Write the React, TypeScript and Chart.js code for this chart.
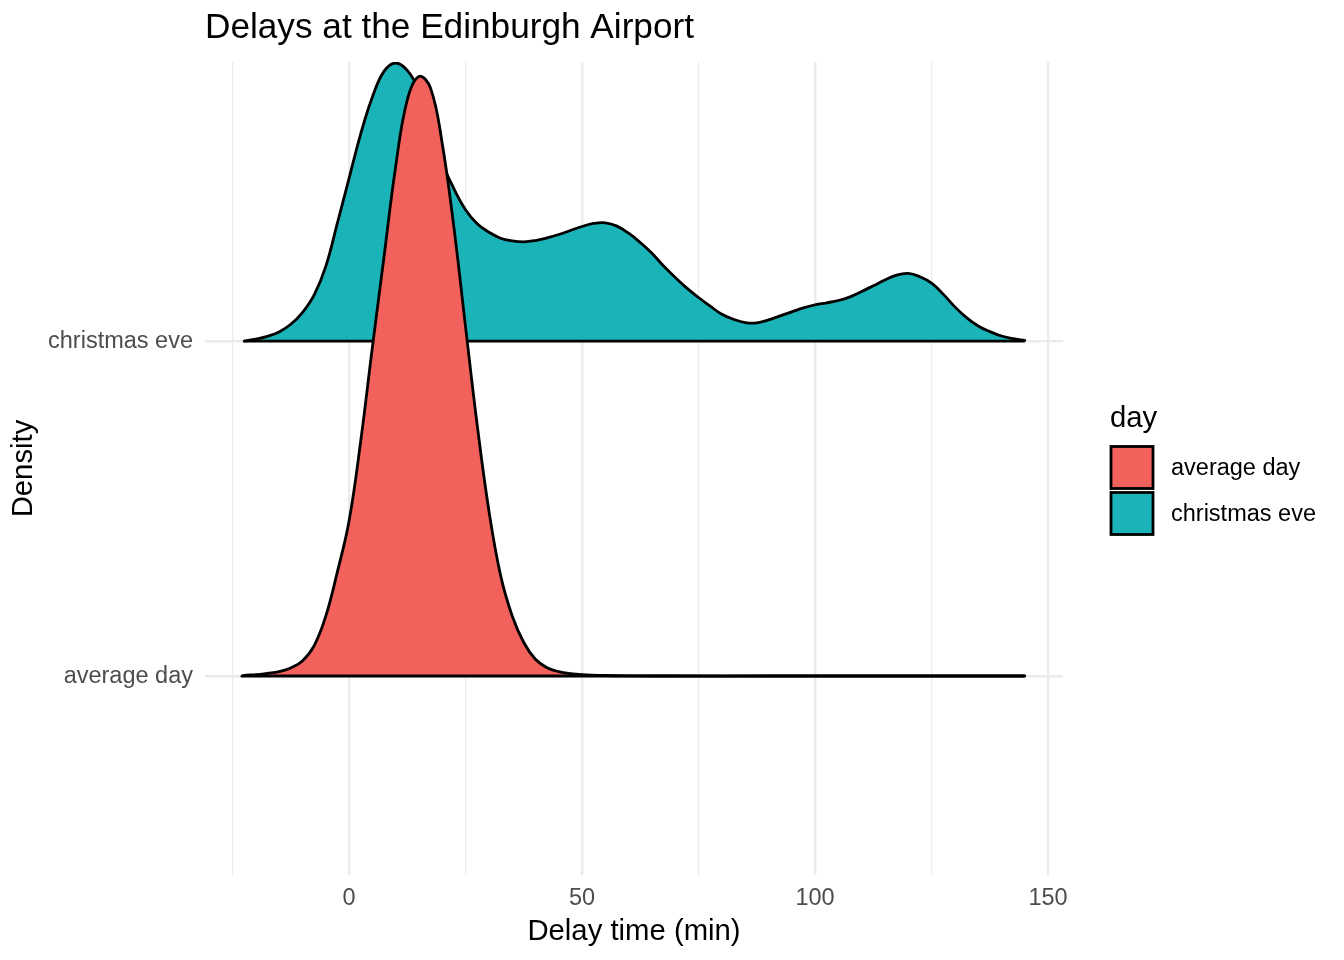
import React, { useEffect, useRef } from "react";
import { Chart, registerables } from "chart.js";

Chart.register(...registerables);

// ---- data ----
const categories = ["average day", "christmas eve"];
const fillColors = ["#F3615C", "#1AB3B7"];
const xTicks = [-25, 0, 25, 50, 75, 100, 125, 150];
const labeledTicks = [0, 50, 100, 150];

// ridge heights are in units of the spacing between the two ridges
const avgDayDelay = [
  -23, -22.5, -20, -17.5, -15, -12.5, -10, -7.5, -5, -2.5, 0, 2.5, 5, 7.5, 10, 12.5, 15, 17.5, 20,
  22.5, 25, 27.5, 30, 32.5, 35, 37.5, 40, 42.5, 45, 47.5, 50, 55, 60, 70, 90, 110, 130, 145,
];
const avgDayHeight = [
  0, 0.002, 0.004, 0.008, 0.013, 0.024, 0.045, 0.09, 0.178, 0.311, 0.462, 0.7, 0.98, 1.25, 1.52,
  1.72, 1.79, 1.755, 1.59, 1.34, 1.043, 0.75, 0.495, 0.302, 0.18, 0.1, 0.05, 0.025, 0.013, 0.007,
  0.004, 0.0015, 0.0005, 0, 0, 0, 0, 0,
];

const xmasDelay = [
  -22.5, -20, -17.5, -15, -12.5, -10, -7.5, -5, -2.5, 0, 2.5, 5, 7.5, 10, 12.5, 15, 17.5, 20, 22.5,
  25, 27.5, 30, 32.5, 35, 37.5, 40, 42.5, 45, 47.5, 50, 52.5, 55, 57.5, 60, 62.5, 65, 67.5, 70, 72.5,
  75, 77.5, 80, 82.5, 85, 87.5, 90, 92.5, 95, 97.5, 100, 102.5, 105, 107.5, 110, 112.5, 115, 117.5,
  120, 122.5, 125, 127.5, 130, 132.5, 135, 137.5, 140, 142.5, 145,
];
const xmasHeight = [
  0, 0.006, 0.014, 0.027, 0.05, 0.085, 0.137, 0.222, 0.352, 0.485, 0.618, 0.728, 0.805, 0.83, 0.808,
  0.75, 0.67, 0.535, 0.455, 0.392, 0.35, 0.325, 0.307, 0.299, 0.296, 0.3, 0.308, 0.318, 0.33, 0.342,
  0.351, 0.353, 0.343, 0.322, 0.294, 0.262, 0.224, 0.19, 0.158, 0.13, 0.104, 0.08, 0.065, 0.055,
  0.054, 0.063, 0.075, 0.087, 0.099, 0.108, 0.114, 0.121, 0.132, 0.148, 0.165, 0.182, 0.197, 0.202,
  0.192, 0.173, 0.14, 0.102, 0.07, 0.045, 0.028, 0.015, 0.007, 0.002,
];

const FONT = "'Liberation Sans', Arial, Helvetica, sans-serif";
const LINE_W = 2.8;

const legendPlugin = {
  id: "ggLegend",
  afterDraw(chart: any) {
    const ctx = chart.ctx as CanvasRenderingContext2D;
    const left = chart.chartArea.right + 47;
    const mid = (chart.chartArea.top + chart.chartArea.bottom) / 2;
    ctx.save();
    ctx.fillStyle = "#000000";
    ctx.font = `29.3px ${FONT}`;
    ctx.textBaseline = "middle";
    ctx.textAlign = "left";
    ctx.fillText("day", left, mid - 50);
    const keyTop = mid - 22;
    categories.forEach((c, i) => {
      const y = keyTop + i * 46;
      ctx.fillStyle = fillColors[i];
      ctx.fillRect(left + 1, y, 42, 42);
      ctx.strokeStyle = "#000000";
      ctx.lineWidth = LINE_W;
      ctx.strokeRect(left + 1, y, 42, 42);
      ctx.fillStyle = "#000000";
      ctx.font = `23.5px ${FONT}`;
      ctx.fillText(c, left + 61, y + 22);
    });
    ctx.restore();
  },
};

export default function App() {
  const ref = useRef<HTMLCanvasElement>(null);

  useEffect(() => {
    if (!ref.current) return;
    const series = [
      { xs: avgDayDelay, hs: avgDayHeight },
      { xs: xmasDelay, hs: xmasHeight },
    ];
    // Chart.js draws the highest dataset index first, so the upper ridge
    // (christmas eve) goes last in the array and is painted underneath.
    const datasets: any[] = [];
    series.forEach((s, i) => {
      const base = i + 1;
      const pts = s.xs.map((x, k) => ({ x, y: base + s.hs[k] }));
      datasets.push({
        label: categories[i] + " baseline",
        data: [
          { x: s.xs[0], y: base },
          { x: s.xs[s.xs.length - 1], y: base },
        ],
        borderColor: "#000000",
        borderWidth: LINE_W,
        fill: false,
        pointRadius: 0,
      });
      datasets.push({
        label: categories[i],
        data: pts,
        borderColor: "#000000",
        borderWidth: LINE_W,
        backgroundColor: fillColors[i],
        fill: { value: base },
        pointRadius: 0,
        tension: 0.4,
        borderJoinStyle: "round",
        borderCapStyle: "round",
      });
    });

    const chart = new Chart(ref.current, {
      type: "line",
      data: { datasets },
      plugins: [legendPlugin],
      options: {
        animation: false,
        responsive: false,
        layout: { padding: { left: 0, right: 281, top: 0, bottom: 0 } },
        plugins: {
          legend: { display: false },
          tooltip: { enabled: false },
          title: {
            display: true,
            text: "Delays at the Edinburgh Airport",
            align: "start",
            fullSize: false,
            color: "#000000",
            font: { family: FONT, size: 35.2, weight: "normal" },
            padding: { top: 7, bottom: 12.76 },
          },
        },
        scales: {
          x: {
            type: "linear",
            min: -30.9,
            max: 153.2,
            afterBuildTicks: (scale: any) => {
              scale.ticks = xTicks.map((v) => ({ value: v }));
            },
            afterFit: (scale: any) => {
              scale.height = 85;
            },
            ticks: {
              autoSkip: false,
              maxRotation: 0,
              padding: 9,
              color: "#4D4D4D",
              font: { family: FONT, size: 23.5 },
              callback: (v: any) => (labeledTicks.includes(Number(v)) ? String(v) : ""),
            },
            grid: {
              color: "#EBEBEB",
              drawTicks: false,
              lineWidth: (ctx: any) =>
                labeledTicks.includes(ctx.tick?.value) ? 2.4 : 1.2,
            },
            border: { display: false },
            title: {
              display: true,
              text: "Delay time (min)",
              color: "#000000",
              font: { family: FONT, size: 29.3 },
              padding: { top: 0, bottom: 10.4 },
            },
          },
          y: {
            type: "linear",
            min: 0.406,
            max: 2.833,
            afterBuildTicks: (scale: any) => {
              scale.ticks = categories.map((_, i) => ({ value: i + 1 }));
            },
            afterFit: (scale: any) => {
              scale.width = 205;
            },
            ticks: {
              autoSkip: false,
              padding: 12,
              color: "#4D4D4D",
              font: { family: FONT, size: 23.5 },
              callback: (v: any) => categories[Number(v) - 1] ?? "",
            },
            grid: {
              color: "#EBEBEB",
              drawTicks: false,
              lineWidth: 2.4,
            },
            border: { display: false },
            title: {
              display: true,
              text: "Density",
              color: "#000000",
              font: { family: FONT, size: 29.3 },
              padding: { top: 6.5, bottom: 0 },
            },
          },
        },
      } as any,
    });
    return () => chart.destroy();
  }, []);

  return (
    <div style={{ position: "fixed", left: 0, top: 0, width: 1344, height: 960, background: "#ffffff" }}>
      <canvas ref={ref} width={1344} height={960} style={{ display: "block" }} />
    </div>
  );
}
